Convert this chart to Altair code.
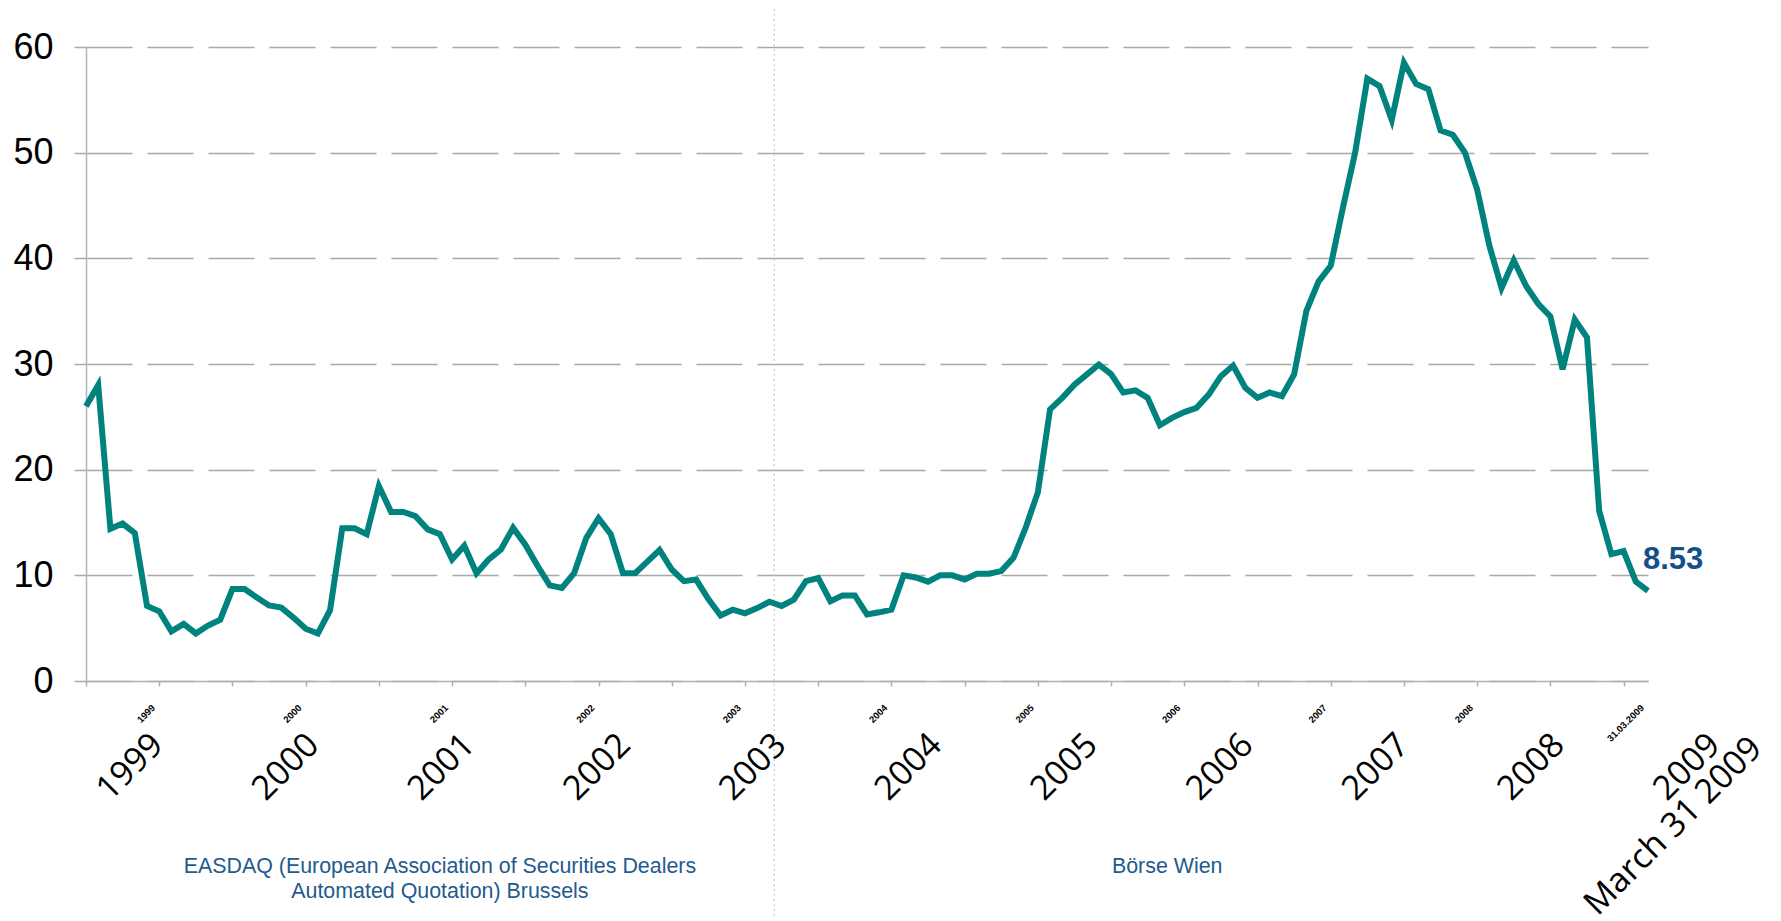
import altair as alt
import pandas as pd

# ---------------- data (monthly, July 1998 .. March 2009) ----------------
values = [
    26.0, 28.0, 14.4, 14.9, 14.0, 7.1, 6.6, 4.7, 5.4, 4.5,
    5.25, 5.8, 8.7, 8.7, 7.9, 7.15, 6.95, 6.0, 4.95, 4.5,
    6.7, 14.45, 14.45, 13.9, 18.45, 16.0, 16.0, 15.6, 14.35, 13.9,
    11.5, 12.8, 10.2, 11.5, 12.45, 14.5, 12.9, 10.9, 9.05, 8.8,
    10.2, 13.55, 15.4, 13.9, 10.2, 10.2, 11.3, 12.4, 10.55, 9.45,
    9.6, 7.75, 6.2, 6.75, 6.4, 6.9, 7.5, 7.1, 7.7, 9.45,
    9.75, 7.55, 8.1, 8.1, 6.3, 6.5, 6.75, 10.0, 9.8, 9.4,
    10.0, 10.0, 9.6, 10.15, 10.15, 10.4, 11.65, 14.5, 17.85, 25.7,
    26.8, 28.05, 29.0, 29.95, 29.05, 27.3, 27.5, 26.8, 24.2, 24.9,
    25.45, 25.85, 27.1, 28.85, 29.85, 27.75, 26.8, 27.3, 26.95, 29.0,
    35.0, 37.8, 39.3, 44.8, 50.0, 57.0, 56.3, 53.1, 58.5, 56.5,
    56.0, 52.1, 51.7, 50.0, 46.5, 41.2, 37.2, 39.8, 37.4, 35.7,
    34.5, 29.5, 34.2, 32.5, 16.1, 12.0, 12.3, 9.4, 8.53,
]
months = list(range(len(values)))          # 0 = July 1998

# small axis labels (month index -> text)
small_label_months = [6, 18, 30, 42, 54, 66, 78, 90, 102, 114, 128]
small_label_texts = ["1999", "2000", "2001", "2002", "2003", "2004",
                     "2005", "2006", "2007", "2008", "31.03.2009"]
tick_months = list(range(0, 127, 6)) + [128]

# large year captions under the axis
year_captions = ["1999", "2000", "2001", "2002", "2003", "2004",
                 "2005", "2006", "2007", "2008", "2009"]
date_caption = "March 31 2009"

# exchange captions
divider_month = [56.4]
exchange_names = ["EASDAQ (European Association of Securities Dealers\nAutomated Quotation) Brussels",
                  "Börse Wien"]
exchange_months = [29.0, 88.6]

# ---------------- chart ----------------
W, H = 1562, 634
TEAL = "#00827e"
GRID = "#a8a8a8"
NAVY = "#13508a"
CAPTION = "#1f5b8e"

df = pd.DataFrame({"m": months, "v": values})

label_expr = ""
for mth, txt in zip(small_label_months, small_label_texts):
    label_expr += f"datum.value == {mth} ? '{txt}' : "
label_expr += "''"

x_scale = alt.Scale(domain=[0, 128], nice=False, zero=False)
y_scale = alt.Scale(domain=[0, 60], nice=False)

x_axis = alt.Axis(
    values=tick_months, labelExpr=label_expr, labelAngle=315,
    labelAlign="right", labelBaseline="middle", labelFont="Liberation Sans",
    labelFontSize=9.5, labelFontWeight="bold", labelColor="black",
    labelPadding=20, labelOffset=-6, labelFlush=False, labelOverlap=False,
    tickSize=5, tickColor="#b0b0b0", tickWidth=1.5,
    tickOpacity={"condition": {"test": "datum.value == 128", "value": 0}, "value": 1},
    domainColor="#b0b0b0", domainWidth=1.5, grid=False, title=None,
)
y_axis = alt.Axis(
    values=[0, 10, 20, 30, 40, 50, 60], labelFont="Liberation Sans",
    labelFontSize=36, labelColor="black", labelPadding=21,
    tickSize=12, tickColor=GRID, tickWidth=1.5,
    domainColor="#b3b3b3", domainWidth=1.5,
    grid=True, gridColor=GRID, gridWidth=1.5, gridDash=[46, 15], title=None,
)

X = alt.X("m:Q", scale=x_scale, axis=x_axis)
Y = alt.Y("v:Q", scale=y_scale, axis=y_axis)

line = alt.Chart(df).mark_line(color=TEAL, strokeWidth=6).encode(x=X, y=Y)

rule = alt.Chart(pd.DataFrame({"m": divider_month})).mark_rule(
    color="#c8c8c8", strokeDash=[2, 3], strokeWidth=1.2
).encode(x=X, y=alt.value(-38), y2=alt.value(H + 238))

end_label = alt.Chart(df).transform_filter(alt.datum.m == len(values) - 1).mark_text(
    align="left", baseline="alphabetic", dx=-5, dy=-22,
    font="Liberation Sans", fontSize=31, fontWeight="bold", color=NAVY
).encode(x=X, y=Y, text=alt.Text("v:Q", format=".2f"))

exchanges = alt.Chart(pd.DataFrame({"m": exchange_months, "t": exchange_names})).mark_text(
    align="center", baseline="alphabetic", lineBreak="\n", lineHeight=25,
    font="Liberation Sans", fontSize=21.4, color=CAPTION
).encode(x=X, y=alt.value(826), text="t:N")

main = alt.layer(rule, line, end_label, exchanges)

cap_scale = alt.Scale(domain=[-0.3854, 9.647], nice=False, zero=False)
cap_df = pd.DataFrame({"k": list(range(len(year_captions))), "t": year_captions})
caps = alt.Chart(cap_df).mark_text(
    angle=315, align="right", baseline="top", font="Open Sans",
    fontSize=34, color="black"
).encode(x=alt.X("k:Q", scale=cap_scale, axis=None), y=alt.value(681), text="t:N")

date_cap = alt.Chart(pd.DataFrame({"k": [len(year_captions) - 1], "t": [date_caption]})).mark_text(
    angle=315, align="right", baseline="top", dx=27, dy=32, font="Open Sans",
    fontSize=34, color="black"
).encode(x=alt.X("k:Q", scale=cap_scale, axis=None), y=alt.value(681), text="t:N")

captions = alt.layer(caps, date_cap)

chart = alt.layer(main, captions).resolve_scale(x="independent").properties(
    width=W, height=H,
    autosize=alt.AutoSizeParams(type="none"),
    padding={"left": 78, "top": 39, "right": 125, "bottom": 238},
    background="white",
).configure_view(strokeWidth=0)

chart.save("out.html", embed_options={"renderer": "svg", "actions": False})
